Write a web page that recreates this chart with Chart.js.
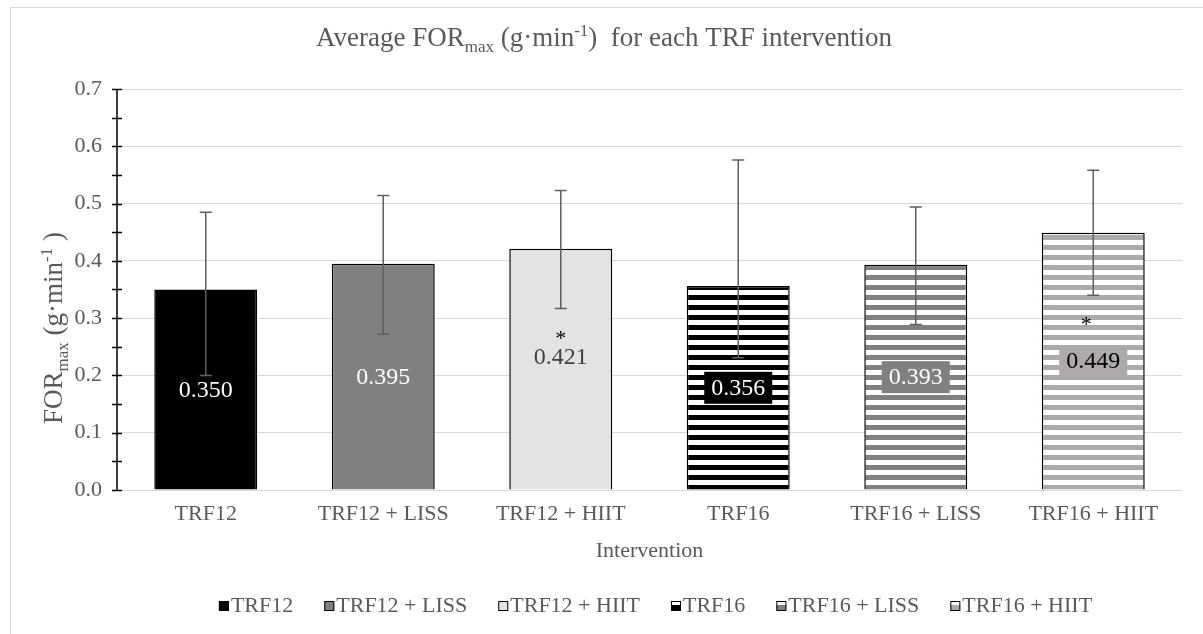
<!DOCTYPE html>
<html><head><meta charset="utf-8">
<script src="https://cdn.jsdelivr.net/npm/chart.js@4.4.0/dist/chart.umd.min.js"></script>
<style>html,body{margin:0;padding:0;background:#fff}#wrap{width:1203px;height:634px;position:relative}</style>
</head><body><div id="wrap"><canvas id="c" width="1203" height="634"></canvas></div>
<script>
// ---- data ----
const categories = ['TRF12', 'TRF12 + LISS', 'TRF12 + HIIT', 'TRF16', 'TRF16 + LISS', 'TRF16 + HIIT'];
const meanValues = [0.350, 0.395, 0.421, 0.356, 0.393, 0.449];
const errorUpper = [0.485, 0.514, 0.523, 0.576, 0.494, 0.558];
const errorLower = [0.200, 0.272, 0.317, 0.231, 0.289, 0.340];
const valueLabels = ['0.350', '0.395', '0.421', '0.356', '0.393', '0.449'];
const significance = ['', '', '*', '', '', '*'];
const yTickValues = [0, 0.1, 0.2, 0.3, 0.4, 0.5, 0.6, 0.7];

// ---- styles ----
const FONT = "'Liberation Serif', 'Times New Roman', serif";
const TXT = '#595959';
function stripes(fg, bg) {
  const c = document.createElement('canvas'); c.width = 8; c.height = 10;
  const g = c.getContext('2d');
  g.fillStyle = bg; g.fillRect(0, 0, 8, 10);
  g.fillStyle = fg; g.fillRect(0, 5, 8, 5);
  return document.getElementById('c').getContext('2d').createPattern(c, 'repeat');
}
const fills = ['#000000', '#808080', '#e3e3e3', stripes('#000000', '#ffffff'), stripes('#808080', '#ffffff'), stripes('#aeaaaa', '#ffffff')];
const labelText = ['#ffffff', '#ffffff', '#404040', '#ffffff', '#ffffff', '#000000'];
const labelBox = [null, null, null, '#000000', '#808080', '#aeaaaa'];

function richText(ctx, segs, x, y, size, align) {
  const sub = Math.round(size * 0.62);
  let w = 0;
  for (const s of segs) { ctx.font = (s.m === 'n' ? size : sub) + 'px ' + FONT; w += ctx.measureText(s.t).width; }
  let cx = align === 'center' ? x - w / 2 : x;
  ctx.textBaseline = 'alphabetic'; ctx.textAlign = 'left';
  for (const s of segs) {
    ctx.font = (s.m === 'n' ? size : sub) + 'px ' + FONT;
    const dy = s.m === 'sub' ? size * 0.22 : s.m === 'sup' ? -size * 0.36 : 0;
    ctx.fillText(s.t, cx, y + dy);
    cx += ctx.measureText(s.t).width;
  }
}

const decor = {
  id: 'decor',
  beforeDraw(chart) {
    const ctx = chart.ctx;
    ctx.save(); ctx.fillStyle = '#fff'; ctx.fillRect(0, 0, chart.width, chart.height);
    ctx.strokeStyle = '#d9d9d9'; ctx.lineWidth = 1;
    ctx.strokeRect(10.5, 7.5, chart.width + 10, chart.height + 10);
    ctx.restore();
  },
  afterDatasetsDraw(chart) {
    const ctx = chart.ctx, a = chart.chartArea, y = chart.scales.y;
    ctx.save();
    ctx.strokeStyle = '#000'; ctx.lineWidth = 1.5;
    ctx.beginPath(); ctx.moveTo(a.left, a.top); ctx.lineTo(a.left, a.bottom); ctx.stroke();
    for (let i = 0; i < yTickValues.length * 2 - 1; i++) {
      const py = Math.round(y.getPixelForValue(i * 0.05)) + 0.5;
      ctx.beginPath(); ctx.moveTo(a.left - 5, py); ctx.lineTo(a.left + 5, py); ctx.stroke();
    }
    const meta = chart.getDatasetMeta(0);
    meta.data.forEach((bar, i) => {
      const x = bar.x;
      const mid = (bar.y + bar.base) / 2;
      const two = significance[i] && !labelBox[i];
      const ly = two ? mid - 12 : mid;
      ctx.font = '24px ' + FONT;
      const tw = ctx.measureText(valueLabels[i]).width;
      if (labelBox[i]) { ctx.fillStyle = labelBox[i]; ctx.fillRect(x - tw / 2 - 7, ly - 16, tw + 14, 32); }
      ctx.fillStyle = labelText[i]; ctx.textAlign = 'center'; ctx.textBaseline = 'middle';
      ctx.fillText(valueLabels[i], x, ly + 1);
      if (significance[i]) {
        ctx.fillStyle = '#000'; ctx.textBaseline = 'alphabetic';
        ctx.font = '22px ' + FONT;
        if (two) ctx.fillText(significance[i], x, ly - 12);
        else ctx.fillText(significance[i], x - 7, ly - 30);
      }
      const yt = y.getPixelForValue(errorUpper[i]), yb = y.getPixelForValue(errorLower[i]);
      ctx.strokeStyle = '#5f5f5f'; ctx.lineWidth = 1.5;
      ctx.beginPath();
      ctx.moveTo(x, yt); ctx.lineTo(x, yb);
      ctx.moveTo(x - 6, yt); ctx.lineTo(x + 6, yt);
      ctx.moveTo(x - 6, yb); ctx.lineTo(x + 6, yb);
      ctx.stroke();
    });
    ctx.restore();
  },
  afterDraw(chart) {
    const ctx = chart.ctx, a = chart.chartArea;
    ctx.save(); ctx.fillStyle = TXT;
    richText(ctx, [{t: 'Average FOR', m: 'n'}, {t: 'max', m: 'sub'}, {t: ' (g·min', m: 'n'}, {t: '-1', m: 'sup'}, {t: ')  for each TRF intervention', m: 'n'}], 604, 46, 27, 'center');
    ctx.save(); ctx.translate(62, 328); ctx.rotate(-Math.PI / 2);
    richText(ctx, [{t: 'FOR', m: 'n'}, {t: 'max', m: 'sub'}, {t: ' (g·min', m: 'n'}, {t: '-1', m: 'sup'}, {t: ' )', m: 'n'}], 0, 0, 27, 'center');
    ctx.restore();
    ctx.font = '22px ' + FONT; ctx.textAlign = 'center'; ctx.textBaseline = 'middle';
    ctx.fillText('Intervention', (a.left + a.right) / 2, 551);
    const gap = 31, box = 10;
    ctx.font = '22px ' + FONT;
    const widths = categories.map(c => box + 2 + ctx.measureText(c).width);
    const total = widths.reduce((s, w) => s + w, 0) + gap * (categories.length - 1);
    let lx = (a.left + a.right) / 2 + 6 - total / 2;
    const ly = 606;
    categories.forEach((c, i) => {
      ctx.fillStyle = fills[i]; ctx.fillRect(lx, ly - 5, box, box);
      ctx.strokeStyle = '#000'; ctx.lineWidth = 1; ctx.strokeRect(lx + 0.5, ly - 4.5, box - 1, box - 1);
      ctx.fillStyle = TXT; ctx.textAlign = 'left'; ctx.textBaseline = 'middle';
      ctx.fillText(c, lx + box + 2, ly);
      lx += widths[i] + gap;
    });
    ctx.restore();
  }
};

new Chart(document.getElementById('c'), {
  type: 'bar',
  data: { labels: categories, datasets: [{ data: meanValues, backgroundColor: fills, borderColor: '#000', borderWidth: 1.5, barPercentage: 0.58, categoryPercentage: 1 }] },
  options: {
    responsive: false, animation: false, devicePixelRatio: 1,
    layout: { padding: { top: 89, right: 21, left: 0, bottom: 0 } },
    plugins: { legend: { display: false }, tooltip: { enabled: false } },
    scales: {
      x: { grid: { display: false, drawTicks: false }, border: { display: false },
           ticks: { color: TXT, font: { family: FONT, size: 22 }, padding: 11, maxRotation: 0, autoSkip: false },
           afterFit(s) { s.height = 144; } },
      y: { min: 0, max: 0.7, grid: { color: '#d9d9d9', drawTicks: false, lineWidth: 1 }, border: { display: false },
           ticks: { stepSize: 0.1, color: TXT, font: { family: FONT, size: 22 }, padding: 15, callback: v => v.toFixed(1) },
           afterFit(s) { s.width = 117; } }
    }
  },
  plugins: [decor]
});
</script>
</body></html>
